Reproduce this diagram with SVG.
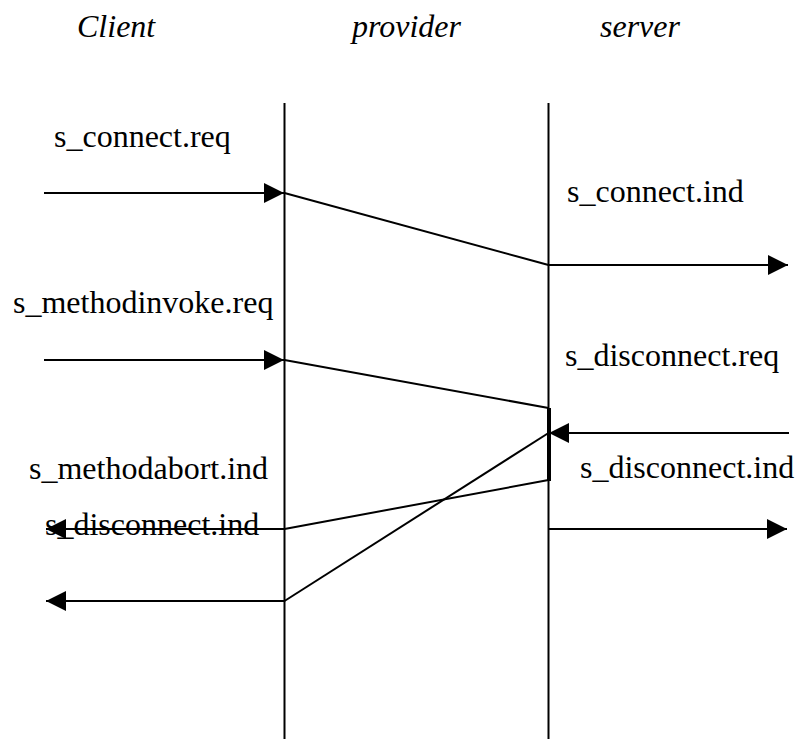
<svg xmlns="http://www.w3.org/2000/svg" width="798" height="739" viewBox="0 0 798 739">
  <style>
    .title { font-family: "Liberation Serif", "Times New Roman", serif; font-style: italic; font-size: 32px; fill: #000; }
    .label { font-family: "Liberation Serif", "Times New Roman", serif; font-size: 32px; fill: #000; }
    .life { stroke: #000; stroke-width: 2; fill: none; }
    .msg { stroke: #000; stroke-width: 2; fill: none; }
    .arrow { stroke: #000; stroke-width: 2; fill: none; marker-end: url(#head); }
  </style>
  <defs>
    <marker id="head" markerUnits="userSpaceOnUse" markerWidth="20" markerHeight="20" refX="20" refY="10" orient="auto" viewBox="0 0 20 20">
      <path d="M0,0 L20,10 L0,20 z" fill="#000"/>
    </marker>
  </defs>
  <rect width="798" height="739" fill="#fff"/>

  <!-- participants -->
  <g id="client">
    <text class="title" x="77" y="37">Client</text>
  </g>
  <g id="provider">
    <text class="title" x="352" y="37">provider</text>
    <line class="life" x1="284.5" y1="103" x2="284.5" y2="739"/>
  </g>
  <g id="server">
    <text class="title" x="600" y="37">server</text>
    <line class="life" x1="548.5" y1="103" x2="548.5" y2="739"/>
    <line stroke="#000" stroke-width="4" x1="549" y1="408" x2="549" y2="481"/>
  </g>

  <!-- primitive labels -->
  <g id="labels">
    <text class="label" x="54" y="147">s_connect.req</text>
    <text class="label" x="567" y="202">s_connect.ind</text>
    <text class="label" x="13" y="313">s_methodinvoke.req</text>
    <text class="label" x="565" y="366">s_disconnect.req</text>
    <text class="label" x="29" y="479">s_methodabort.ind</text>
    <text class="label" x="580" y="478">s_disconnect.ind</text>
    <text class="label" x="45" y="535">s_disconnect.ind</text>
  </g>

  <!-- messages -->
  <g id="connectors">
    <line class="arrow" x1="44" y1="193" x2="284" y2="193"/>
    <line class="msg" x1="284.5" y1="193" x2="548.5" y2="265"/>
    <line class="arrow" x1="548.5" y1="265" x2="788" y2="265"/>

    <line class="arrow" x1="44" y1="360" x2="284" y2="360"/>
    <line class="msg" x1="284.5" y1="360" x2="548.5" y2="408"/>

    <line class="arrow" x1="789" y1="433" x2="549" y2="433"/>
    <line class="msg" x1="548.5" y1="433" x2="284.5" y2="601"/>
    <line class="msg" x1="548.5" y1="480" x2="284.5" y2="529"/>

    <line class="arrow" x1="284.5" y1="529" x2="46" y2="529"/>
    <line class="arrow" x1="284.5" y1="601" x2="46" y2="601"/>
    <line class="arrow" x1="548.5" y1="529" x2="787" y2="529"/>
  </g>
</svg>
